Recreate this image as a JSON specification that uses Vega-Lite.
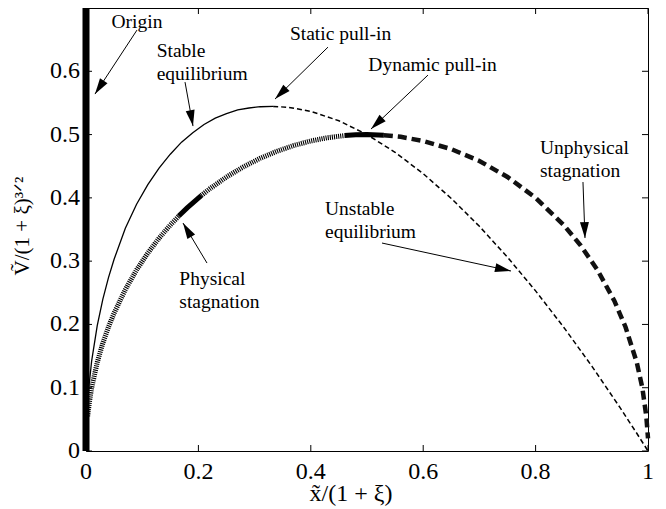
{
  "$schema": "https://vega.github.io/schema/vega-lite/v6.json",
  "width": 562,
  "height": 443,
  "autosize": {"type": "none"},
  "padding": {"left": 86, "top": 8, "right": 18, "bottom": 58},
  "background": "white",
  "config": {
    "view": {"stroke": "black", "strokeWidth": 1},
    "axis": {"grid": false}
  },
  "datasets": {
    "x_ticks": [{"v": 0}, {"v": 0.2}, {"v": 0.4}, {"v": 0.6}, {"v": 0.8}, {"v": 1}],
    "y_ticks": [{"v": 0}, {"v": 0.1}, {"v": 0.2}, {"v": 0.3}, {"v": 0.4}, {"v": 0.5}, {"v": 0.6}],
    "curves": [
      {"branch": "stable", "x": 0.0025, "y": 0.07},
      {"branch": "stable", "x": 0.005, "y": 0.1},
      {"branch": "stable", "x": 0.01, "y": 0.142},
      {"branch": "stable", "x": 0.02, "y": 0.198},
      {"branch": "stable", "x": 0.03, "y": 0.24},
      {"branch": "stable", "x": 0.04, "y": 0.274},
      {"branch": "stable", "x": 0.05, "y": 0.303},
      {"branch": "stable", "x": 0.07, "y": 0.352},
      {"branch": "stable", "x": 0.09, "y": 0.39},
      {"branch": "stable", "x": 0.11, "y": 0.421},
      {"branch": "stable", "x": 0.13, "y": 0.447},
      {"branch": "stable", "x": 0.15, "y": 0.469},
      {"branch": "stable", "x": 0.17, "y": 0.488},
      {"branch": "stable", "x": 0.19, "y": 0.503},
      {"branch": "stable", "x": 0.21, "y": 0.516},
      {"branch": "stable", "x": 0.23, "y": 0.526},
      {"branch": "stable", "x": 0.25, "y": 0.533},
      {"branch": "stable", "x": 0.27, "y": 0.539},
      {"branch": "stable", "x": 0.29, "y": 0.542},
      {"branch": "stable", "x": 0.31, "y": 0.544},
      {"branch": "stable", "x": 0.333, "y": 0.5445},

      {"branch": "unstable", "x": 0.333, "y": 0.5445},
      {"branch": "unstable", "x": 0.36, "y": 0.5431},
      {"branch": "unstable", "x": 0.4, "y": 0.5367},
      {"branch": "unstable", "x": 0.45, "y": 0.5218},
      {"branch": "unstable", "x": 0.5, "y": 0.5},
      {"branch": "unstable", "x": 0.55, "y": 0.472},
      {"branch": "unstable", "x": 0.6, "y": 0.4382},
      {"branch": "unstable", "x": 0.65, "y": 0.3991},
      {"branch": "unstable", "x": 0.7, "y": 0.355},
      {"branch": "unstable", "x": 0.75, "y": 0.3062},
      {"branch": "unstable", "x": 0.8, "y": 0.253},
      {"branch": "unstable", "x": 0.85, "y": 0.1956},
      {"branch": "unstable", "x": 0.9, "y": 0.1342},
      {"branch": "unstable", "x": 0.95, "y": 0.0689},
      {"branch": "unstable", "x": 0.98, "y": 0.028},
      {"branch": "unstable", "x": 1.0, "y": 0.0},

      {"branch": "physical_a", "x": 0.003, "y": 0.055},
      {"branch": "physical_a", "x": 0.006, "y": 0.077},
      {"branch": "physical_a", "x": 0.01, "y": 0.0995},
      {"branch": "physical_a", "x": 0.02, "y": 0.14},
      {"branch": "physical_a", "x": 0.03, "y": 0.1706},
      {"branch": "physical_a", "x": 0.04, "y": 0.196},
      {"branch": "physical_a", "x": 0.05, "y": 0.2179},
      {"branch": "physical_a", "x": 0.07, "y": 0.2551},
      {"branch": "physical_a", "x": 0.09, "y": 0.2862},
      {"branch": "physical_a", "x": 0.11, "y": 0.3129},
      {"branch": "physical_a", "x": 0.13, "y": 0.3363},
      {"branch": "physical_a", "x": 0.15, "y": 0.3571},
      {"branch": "physical_a", "x": 0.165, "y": 0.3712},

      {"branch": "stagnation", "x": 0.165, "y": 0.3712},
      {"branch": "stagnation", "x": 0.18, "y": 0.3842},
      {"branch": "stagnation", "x": 0.205, "y": 0.4037},

      {"branch": "physical_b", "x": 0.205, "y": 0.4037},
      {"branch": "physical_b", "x": 0.22, "y": 0.4142},
      {"branch": "physical_b", "x": 0.25, "y": 0.433},
      {"branch": "physical_b", "x": 0.28, "y": 0.449},
      {"branch": "physical_b", "x": 0.31, "y": 0.4625},
      {"branch": "physical_b", "x": 0.34, "y": 0.4737},
      {"branch": "physical_b", "x": 0.37, "y": 0.4828},
      {"branch": "physical_b", "x": 0.4, "y": 0.4899},
      {"branch": "physical_b", "x": 0.43, "y": 0.4951},
      {"branch": "physical_b", "x": 0.46, "y": 0.4984},

      {"branch": "pullin", "x": 0.46, "y": 0.4984},
      {"branch": "pullin", "x": 0.48, "y": 0.4996},
      {"branch": "pullin", "x": 0.5, "y": 0.5},
      {"branch": "pullin", "x": 0.53, "y": 0.4991},

      {"branch": "unphysical", "x": 0.53, "y": 0.4991},
      {"branch": "unphysical", "x": 0.56, "y": 0.4964},
      {"branch": "unphysical", "x": 0.6, "y": 0.4899},
      {"branch": "unphysical", "x": 0.65, "y": 0.477},
      {"branch": "unphysical", "x": 0.7, "y": 0.4583},
      {"branch": "unphysical", "x": 0.75, "y": 0.433},
      {"branch": "unphysical", "x": 0.8, "y": 0.4},
      {"branch": "unphysical", "x": 0.85, "y": 0.3571},
      {"branch": "unphysical", "x": 0.88, "y": 0.325},
      {"branch": "unphysical", "x": 0.91, "y": 0.2862},
      {"branch": "unphysical", "x": 0.94, "y": 0.2375},
      {"branch": "unphysical", "x": 0.96, "y": 0.196},
      {"branch": "unphysical", "x": 0.98, "y": 0.14},
      {"branch": "unphysical", "x": 0.99, "y": 0.0995},
      {"branch": "unphysical", "x": 0.997, "y": 0.0547},
      {"branch": "unphysical", "x": 1.0, "y": 0.02}
    ],
    "arrows": [
      {"name": "Origin", "x": 0.0907, "y": 0.6651, "x2": 0.016, "y2": 0.564},
      {"name": "Stable equilibrium", "x": 0.1762, "y": 0.5829, "x2": 0.1904, "y2": 0.5134},
      {"name": "Static pull-in", "x": 0.4306, "y": 0.6382, "x2": 0.3363, "y2": 0.5561},
      {"name": "Dynamic pull-in", "x": 0.6085, "y": 0.594, "x2": 0.5071, "y2": 0.5087},
      {"name": "Physical stagnation", "x": 0.2153, "y": 0.297, "x2": 0.1726, "y2": 0.3602},
      {"name": "Unstable equilibrium", "x": 0.5267, "y": 0.3286, "x2": 0.7562, "y2": 0.2844},
      {"name": "Unphysical stagnation", "x": 0.8843, "y": 0.425, "x2": 0.8879, "y2": 0.3365}
    ],
    "single_labels": [
      {"label": "Origin", "x": 0.0907, "y": 0.6771},
      {"label": "Static pull-in", "x": 0.4529, "y": 0.6597},
      {"label": "Dynamic pull-in", "x": 0.6165, "y": 0.6101}
    ],
    "block_labels": [
      {"label": "Stable\nequilibrium", "x": 0.1258, "y": 0.6313},
      {"label": "Physical\nstagnation", "x": 0.1661, "y": 0.2716},
      {"label": "Unstable\nequilibrium", "x": 0.4253, "y": 0.3821},
      {"label": "Unphysical\nstagnation", "x": 0.8078, "y": 0.4785}
    ]
  },
  "layer": [
    {
      "data": {"values": [{"x": 0, "y": 0, "y2": 0.7}]},
      "mark": {"type": "rule", "stroke": "black", "strokeWidth": 7, "strokeCap": "butt"},
      "encoding": {
        "x": {"field": "x", "type": "quantitative", "scale": {"domain": [0, 1], "nice": false, "zero": false}, "axis": null},
        "y": {"field": "y", "type": "quantitative", "scale": {"domain": [0, 0.7], "nice": false, "zero": false}, "axis": null},
        "y2": {"field": "y2"}
      }
    },
    {
      "data": {"name": "x_ticks"},
      "mark": {"type": "tick", "orient": "vertical", "size": 6, "thickness": 1, "yOffset": -3, "color": "black", "opacity": 1},
      "encoding": {
        "x": {"field": "v", "type": "quantitative", "axis": null},
        "y": {"datum": 0, "type": "quantitative", "axis": null}
      }
    },
    {
      "data": {"name": "x_ticks"},
      "mark": {"type": "tick", "orient": "vertical", "size": 6, "thickness": 1, "yOffset": 3, "color": "black", "opacity": 1},
      "encoding": {
        "x": {"field": "v", "type": "quantitative", "axis": null},
        "y": {"datum": 0.7, "type": "quantitative", "axis": null}
      }
    },
    {
      "data": {"name": "y_ticks"},
      "mark": {"type": "tick", "orient": "horizontal", "size": 6, "thickness": 1, "xOffset": 3, "color": "black", "opacity": 1},
      "encoding": {
        "y": {"field": "v", "type": "quantitative", "axis": null},
        "x": {"datum": 0, "type": "quantitative", "axis": null}
      }
    },
    {
      "data": {"name": "y_ticks"},
      "mark": {"type": "tick", "orient": "horizontal", "size": 6, "thickness": 1, "xOffset": -3, "color": "black", "opacity": 1},
      "encoding": {
        "y": {"field": "v", "type": "quantitative", "axis": null},
        "x": {"datum": 1, "type": "quantitative", "axis": null}
      }
    },
    {
      "data": {"name": "x_ticks"},
      "mark": {"type": "text", "font": "Liberation Serif, Times New Roman, serif", "fontSize": 24, "align": "center", "baseline": "top", "yOffset": 9, "fill": "black"},
      "encoding": {
        "x": {"field": "v", "type": "quantitative", "axis": null},
        "y": {"datum": 0, "type": "quantitative", "axis": null},
        "text": {"field": "v", "type": "quantitative", "format": "~g"}
      }
    },
    {
      "data": {"name": "y_ticks"},
      "mark": {"type": "text", "font": "Liberation Serif, Times New Roman, serif", "fontSize": 24, "align": "right", "baseline": "middle", "xOffset": -6, "fill": "black"},
      "encoding": {
        "y": {"field": "v", "type": "quantitative", "axis": null},
        "x": {"datum": 0, "type": "quantitative", "axis": null},
        "text": {"field": "v", "type": "quantitative", "format": "~g"}
      }
    },
    {
      "data": {"values": [{"title": "x̃/(1 + ξ)"}]},
      "mark": {"type": "text", "font": "Liberation Serif, Times New Roman, serif", "fontSize": 24, "align": "center", "baseline": "middle", "yOffset": 43, "fill": "black"},
      "encoding": {
        "x": {"datum": 0.4715, "type": "quantitative", "axis": null},
        "y": {"datum": 0, "type": "quantitative", "axis": null},
        "text": {"field": "title"}
      }
    },
    {
      "data": {"values": [{"title": "Ṽ/(1 + ξ)³ᐟ²"}]},
      "mark": {"type": "text", "font": "Liberation Serif, Times New Roman, serif", "fontSize": 21, "align": "center", "baseline": "middle", "angle": 270, "xOffset": -63, "fill": "black"},
      "encoding": {
        "x": {"datum": 0, "type": "quantitative", "axis": null},
        "y": {"datum": 0.3555, "type": "quantitative", "axis": null},
        "text": {"field": "title"}
      }
    },
    {
      "data": {"name": "curves"},
      "transform": [{"filter": "datum.branch === 'stable'"}],
      "mark": {"type": "line", "stroke": "black", "strokeWidth": 1.3},
      "encoding": {
        "x": {"field": "x", "type": "quantitative", "axis": null},
        "y": {"field": "y", "type": "quantitative", "axis": null}
      }
    },
    {
      "data": {"name": "curves"},
      "transform": [{"filter": "datum.branch === 'unstable'"}],
      "mark": {"type": "line", "stroke": "black", "strokeWidth": 1.5, "strokeDash": [5, 3], "strokeCap": "butt"},
      "encoding": {
        "x": {"field": "x", "type": "quantitative", "axis": null},
        "y": {"field": "y", "type": "quantitative", "axis": null}
      }
    },
    {
      "data": {"name": "curves"},
      "transform": [{"filter": "datum.branch === 'physical_a' || datum.branch === 'physical_b'"}],
      "mark": {"type": "line", "stroke": "black", "strokeWidth": 5, "strokeDash": [1.1, 1], "strokeCap": "butt"},
      "encoding": {
        "detail": {"field": "branch"},
        "x": {"field": "x", "type": "quantitative", "axis": null},
        "y": {"field": "y", "type": "quantitative", "axis": null}
      }
    },
    {
      "data": {"name": "curves"},
      "transform": [{"filter": "datum.branch === 'stagnation' || datum.branch === 'pullin'"}],
      "mark": {"type": "line", "stroke": "black", "strokeWidth": 5, "strokeCap": "butt"},
      "encoding": {
        "detail": {"field": "branch"},
        "x": {"field": "x", "type": "quantitative", "axis": null},
        "y": {"field": "y", "type": "quantitative", "axis": null}
      }
    },
    {
      "data": {"name": "curves"},
      "transform": [{"filter": "datum.branch === 'unphysical'"}],
      "mark": {"type": "line", "stroke": "#111111", "strokeWidth": 4.5, "strokeDash": [9, 5], "strokeCap": "butt"},
      "encoding": {
        "x": {"field": "x", "type": "quantitative", "axis": null},
        "y": {"field": "y", "type": "quantitative", "axis": null}
      }
    },
    {
      "data": {"name": "arrows"},
      "mark": {"type": "rule", "stroke": "black", "strokeWidth": 1},
      "encoding": {
        "x": {"field": "x", "type": "quantitative", "axis": null},
        "y": {"field": "y", "type": "quantitative", "axis": null},
        "x2": {"field": "x2"},
        "y2": {"field": "y2"}
      }
    },
    {
      "data": {"name": "arrows"},
      "transform": [
        {"calculate": "atan2((datum.x2 - datum.x) * 562, (datum.y2 - datum.y) * 633) * 180 / PI", "as": "heading"}
      ],
      "mark": {"type": "point", "shape": "M0,0L0.28,1L-0.28,1Z", "filled": true, "fill": "black", "strokeWidth": 0, "opacity": 1, "size": 1024},
      "encoding": {
        "x": {"field": "x2", "type": "quantitative", "axis": null},
        "y": {"field": "y2", "type": "quantitative", "axis": null},
        "angle": {"field": "heading", "type": "quantitative", "scale": null}
      }
    },
    {
      "data": {"name": "single_labels"},
      "mark": {"type": "text", "font": "Liberation Serif, Times New Roman, serif", "fontSize": 19.5, "align": "center", "baseline": "middle", "fill": "black"},
      "encoding": {
        "x": {"field": "x", "type": "quantitative", "axis": null},
        "y": {"field": "y", "type": "quantitative", "axis": null},
        "text": {"field": "label"}
      }
    },
    {
      "data": {"name": "block_labels"},
      "mark": {"type": "text", "font": "Liberation Serif, Times New Roman, serif", "fontSize": 19.5, "lineBreak": "\n", "lineHeight": 22.5, "align": "left", "baseline": "middle", "fill": "black"},
      "encoding": {
        "x": {"field": "x", "type": "quantitative", "axis": null},
        "y": {"field": "y", "type": "quantitative", "axis": null},
        "text": {"field": "label"}
      }
    }
  ]
}
